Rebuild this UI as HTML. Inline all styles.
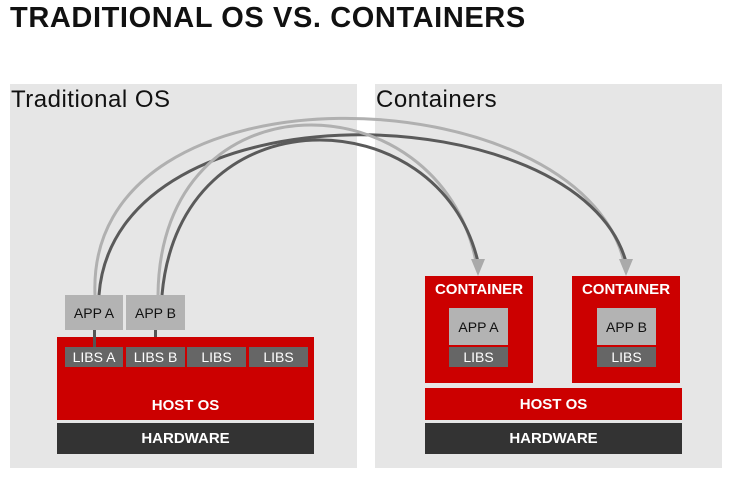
<!DOCTYPE html>
<html><head><style>
body{margin:0;width:740px;height:480px;background:#fff;position:relative;overflow:hidden;font-family:"Liberation Sans",sans-serif}
.a{position:absolute;box-sizing:border-box;display:flex;align-items:center;justify-content:center}
.p{background:#e6e6e6}
.app{background:#b3b3b3;color:#111;font-size:14px}
.lib{background:#666;color:#fff;font-size:14px}
.red{background:#cc0000;color:#fff;font-weight:bold;font-size:15px}
.hw{background:#333;color:#fff;font-weight:bold;font-size:15px}
</style></head><body>
<div class="a" style="left:10px;top:2px;font-size:29px;letter-spacing:0.6px;font-weight:bold;color:#111;justify-content:flex-start">TRADITIONAL OS VS. CONTAINERS</div>
<div class="a p" style="left:10px;top:84px;width:347px;height:384px"></div>
<div class="a p" style="left:375px;top:84px;width:347px;height:384px"></div>
<div class="a" style="left:11px;top:86px;font-size:24px;letter-spacing:0.5px;color:#111">Traditional OS</div>
<div class="a" style="left:376px;top:86px;font-size:24px;letter-spacing:0.5px;color:#111">Containers</div>

<div class="a red" style="left:57px;top:337px;width:257px;height:83px;align-items:flex-end;padding-bottom:6px">HOST OS</div>
<div class="a hw" style="left:57px;top:423px;width:257px;height:31px">HARDWARE</div>
<div class="a app" style="left:65px;top:295px;width:58px;height:35px">APP A</div>
<div class="a app" style="left:126px;top:295px;width:59px;height:35px">APP B</div>
<div class="a lib" style="left:65px;top:347px;width:58px;height:20px">LIBS A</div>
<div class="a lib" style="left:126px;top:347px;width:59px;height:20px">LIBS B</div>
<div class="a lib" style="left:187px;top:347px;width:59px;height:20px">LIBS</div>
<div class="a lib" style="left:249px;top:347px;width:59px;height:20px">LIBS</div>
<div class="a" style="left:93px;top:330px;width:3px;height:17px;background:#555"></div>
<div class="a" style="left:154px;top:330px;width:3px;height:7px;background:#555"></div>

<div class="a red" style="left:425px;top:276px;width:108px;height:107px;align-items:flex-start;padding-top:5px">CONTAINER</div>
<div class="a red" style="left:572px;top:276px;width:108px;height:107px;align-items:flex-start;padding-top:5px">CONTAINER</div>
<div class="a app" style="left:449px;top:308px;width:59px;height:37px">APP A</div>
<div class="a app" style="left:597px;top:308px;width:59px;height:37px">APP B</div>
<div class="a lib" style="left:449px;top:347px;width:59px;height:20px">LIBS</div>
<div class="a lib" style="left:597px;top:347px;width:59px;height:20px">LIBS</div>
<div class="a red" style="left:425px;top:388px;width:257px;height:32px">HOST OS</div>
<div class="a hw" style="left:425px;top:423px;width:257px;height:31px">HARDWARE</div>

<svg style="position:absolute;left:0;top:0" width="740" height="480" fill="none" stroke-width="3">
<path d="M95,295 C85,55 580,75 624,262" stroke="#b0b0b0"/>
<path d="M99,295 C115,80 580,94 626,262" stroke="#5a5a5a"/>
<path d="M158,295 C160,70 440,78 476,262" stroke="#b0b0b0"/>
<path d="M162,295 C180,90 440,98 478,262" stroke="#5a5a5a"/>
<polygon points="471,259 485,259 478,276" fill="#aaa" stroke="none"/>
<polygon points="619,259 633,259 626,276" fill="#aaa" stroke="none"/>
</svg>
</body></html>
